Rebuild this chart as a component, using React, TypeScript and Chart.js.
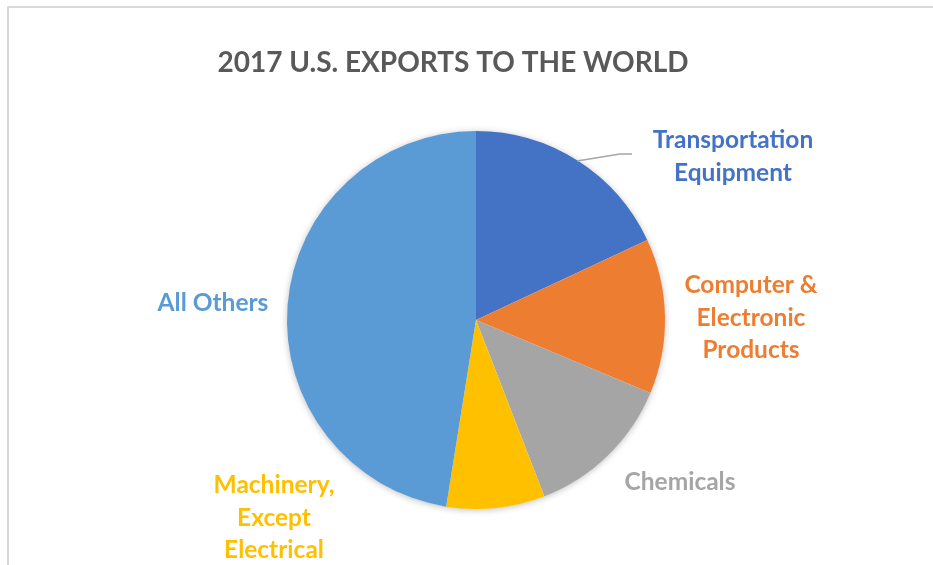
import React, { useEffect, useRef } from "react";
import { Chart, registerables } from "chart.js";

Chart.register(...registerables);

const title = "2017 U.S. EXPORTS TO THE WORLD";
const categories = [
  "Transportation Equipment",
  "Computer & Electronic Products",
  "Chemicals",
  "Machinery, Except Electrical",
  "All Others",
];
// 2017 exports, billions USD
const values = [279, 205, 198, 130, 734];
const colors = ["#4472C4", "#ED7D31", "#A5A5A5", "#FFC000", "#5B9BD5"];
const labelLines = [
  ["Transportation", "Equipment"],
  ["Computer &", "Electronic", "Products"],
  ["Chemicals"],
  ["Machinery,", "Except", "Electrical"],
  ["All Others"],
];

// label layout: [centerX, firstBaselineY]
const labelPos: [number, number][] = [
  [733, 148],
  [751, 293],
  [680, 490],
  [274, 493],
  [213, 311],
];
const LINE_H = 32.5;
const FONT = "Lato, 'Open Sans', sans-serif";

const decorPlugin = {
  id: "decor",
  beforeDatasetsDraw(chart: any) {
    const ctx = chart.ctx;
    const arc = chart.getDatasetMeta(0).data[0];
    if (!arc) return;
    const { x, y, outerRadius } = arc.getProps(["x", "y", "outerRadius"], true);
    ctx.save();
    ctx.shadowColor = "rgba(0,0,0,0.28)";
    ctx.shadowBlur = 7;
    ctx.shadowOffsetX = 0;
    ctx.shadowOffsetY = 1;
    ctx.fillStyle = "#ffffff";
    ctx.beginPath();
    ctx.arc(x, y, outerRadius - 0.5, 0, Math.PI * 2);
    ctx.fill();
    ctx.restore();
  },
  afterDraw(chart: any) {
    const ctx = chart.ctx;
    ctx.save();
    // title
    ctx.fillStyle = "#595959";
    ctx.font = `bold 28px ${FONT}`;
    ctx.textAlign = "center";
    ctx.textBaseline = "alphabetic";
    ctx.fillText(title, 453, 72);

    // leader line for first slice
    ctx.strokeStyle = "#A6A6A6";
    ctx.lineWidth = 1.5;
    ctx.beginPath();
    ctx.moveTo(577, 161);
    ctx.lineTo(620, 154);
    ctx.lineTo(632, 154);
    ctx.stroke();

    // labels
    ctx.font = `bold 24.5px ${FONT}`;
    labelLines.forEach((lines, i) => {
      ctx.fillStyle = colors[i];
      const [lx, ly] = labelPos[i];
      lines.forEach((t, j) => ctx.fillText(t, lx, ly + j * LINE_H));
    });
    ctx.restore();
  },
};

export default function App() {
  const ref = useRef<HTMLCanvasElement | null>(null);
  useEffect(() => {
    document.body.style.margin = "0";
    const canvas = ref.current!;
    const chart = new Chart(canvas, {
      type: "pie",
      data: {
        labels: categories,
        datasets: [
          {
            data: values,
            backgroundColor: colors,
            borderWidth: 0,
          },
        ],
      },
      options: {
        responsive: false,
        animation: false,
        devicePixelRatio: 1,
        layout: { padding: { left: 287, right: 268, top: 131, bottom: 56 } },
        plugins: {
          legend: { display: false },
          tooltip: { enabled: false },
          title: { display: false },
        },
      },
      plugins: [decorPlugin],
    });
    return () => chart.destroy();
  }, []);
  return (
    <div style={{ position: "relative", width: 933, height: 565, overflow: "hidden", background: "#fff" }}>
      <canvas ref={ref} width={933} height={565} style={{ display: "block" }} />
      <div
        style={{
          position: "absolute",
          left: 7,
          top: 6,
          width: 1000,
          height: 1000,
          border: "2px solid #D9D9D9",
          pointerEvents: "none",
        }}
      />
    </div>
  );
}
